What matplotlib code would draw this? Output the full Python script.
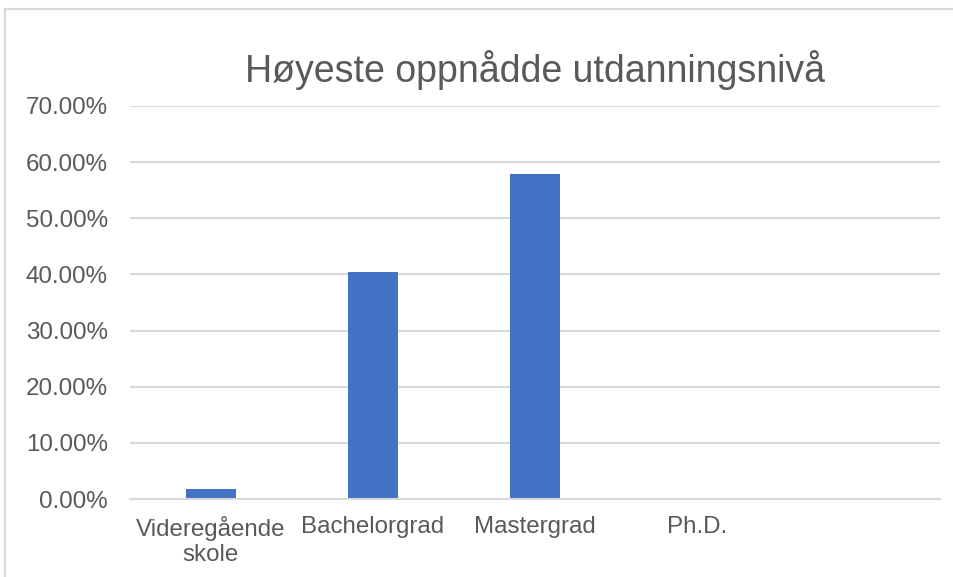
import matplotlib.pyplot as plt
import matplotlib
import numpy as np
from matplotlib.patches import Rectangle

matplotlib.rcParams['font.family'] = ['Liberation Sans', 'DejaVu Sans']

categories = ['Videregående\nskole', 'Bachelorgrad', 'Mastergrad', 'Ph.D.', '']
values = [1.75, 40.35, 57.89, 0.0, 0.0]
yticks = [0, 10, 20, 30, 40, 50, 60, 70]

text_color = '#595959'
grid_color = '#d9d9d9'
bar_color = '#4472C4'

W, H = 954, 577
fig = plt.figure(figsize=(W / 100, H / 100), dpi=100)
ax = fig.add_axes([130 / W, 1 - 499 / H, 810 / W, 393 / H])

x = np.arange(len(categories))
ax.bar(x, values, width=0.31, color=bar_color, zorder=2)

ax.set_xlim(-0.5, len(categories) - 0.5)
ax.set_ylim(0, 70)
ax.set_yticks(yticks)
ax.set_yticklabels(['%.2f%%' % v for v in yticks], fontsize=17.4, color=text_color)
ax.set_xticks(x)
ax.set_xticklabels(categories, fontsize=17.4, color=text_color, linespacing=1.2)
ax.tick_params(length=0)
ax.tick_params(axis='x', pad=12)
ax.tick_params(axis='y', pad=16)
ax.grid(axis='y', color=grid_color, linewidth=1.5, zorder=0)
for s in ['top', 'right', 'left']:
    ax.spines[s].set_visible(False)
ax.spines['bottom'].set_color(grid_color)
ax.spines['bottom'].set_linewidth(1.5)

fig.text(535 / W, 1 - 70 / H, 'Høyeste oppnådde utdanningsnivå', ha='center', va='center',
         fontsize=27, color=text_color)

# chart border
fig.patches.append(Rectangle((5 / W, -0.01), 1.0, 1 - 9 / H + 0.01, transform=fig.transFigure,
                             fill=False, edgecolor=grid_color, linewidth=1.5))

plt.savefig('out.png', dpi=100)
